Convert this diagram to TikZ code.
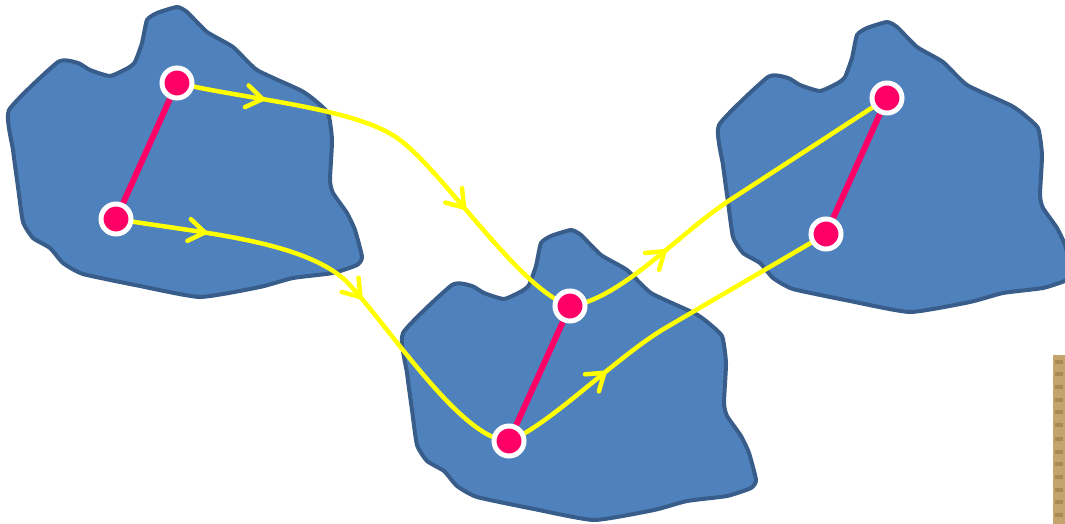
\documentclass[tikz,border=0pt]{standalone}
\usetikzlibrary{decorations.markings}
\definecolor{blobfill}{HTML}{4F81BD}
\definecolor{blobline}{HTML}{385D8A}
\definecolor{dotpink}{HTML}{FF0066}
\definecolor{flowyellow}{HTML}{FFFF00}
\definecolor{stripcol}{HTML}{C2A46C}
\definecolor{stripdark}{HTML}{8E7444}
\pgfdeclarelayer{blobs}
\pgfdeclarelayer{flows}
\pgfsetlayers{blobs,flows,main}
\tikzset{
  blob/.style={fill=blobfill, draw=blobline, line width=4pt, line join=round},
  dot/.style={circle, fill=dotpink, draw=white, line width=5pt, minimum size=30pt, inner sep=0pt},
  link/.style={draw=dotpink, line width=6pt},
  flow/.style={draw=flowyellow, line width=4.5pt, line cap=round},
  chevron/.style={draw=flowyellow, line width=4.5pt, line cap=round, line join=round},
  arrowat/.style={postaction={decorate, decoration={markings, mark=at position #1 with {\draw[chevron] (-16pt,11pt) -- (0pt,0pt) -- (-16pt,-11pt);}}}}
}
\begin{document}
\begin{tikzpicture}[x=1pt,y=-1pt]
\useasboundingbox (0,0) rectangle (1065,524);
\clip (0,0) rectangle (1065,524);
% dots
\node[dot] (a1) at (177,83) {};
\node[dot] (a2) at (116,219) {};
\node[dot] (b1) at (570,306) {};
\node[dot] (b2) at (509,441) {};
\node[dot] (c1) at (887,98) {};
\node[dot] (c2) at (826,234) {};
\begin{pgfonlayer}{blobs}
\foreach \sx/\sy in {0/0,394/223,710/15}{
  \draw[blob, shift={(\sx,\sy)}] plot[smooth cycle, tension=0.3] coordinates {(9,110) (58,62) (78,63) (90,70) (110,76) (128,68) (135,62) (142,43) (147,20) (157,13) (177,7) (187,12) (207,32) (233,47) (257,70) (300,90) (312,98) (328,113) (332,140) (330,180) (333,193) (347,213) (355,230) (362,257) (357,265) (333,273) (293,278) (260,287) (200,297) (140,286) (83,274) (63,263) (50,248) (33,238) (23,222) (18,187) (13,150)};
}
\fill[stripcol] (1053,355) rectangle (1065,524);
\foreach \yy in {360,372,385,398,410,423,437,450,462,475,488,500,513}{
  \fill[stripdark, opacity=0.5] (1055,\yy) rectangle (1063,\yy+4);
}
\end{pgfonlayer}
\begin{pgfonlayer}{flows}
\draw[flow, arrowat=0.185, arrowat=0.69] (a1.center) .. controls (250,100) and (358,108) .. (400,140) .. controls (445,174) and (520,290) .. (b1.center);
\draw[flow, arrowat=0.19, arrowat=0.555] (a2.center) .. controls (200,233) and (300,240) .. (345,280) .. controls (385,320) and (460,440) .. (b2.center);
\draw[flow, arrowat=0.29] (b1.center) .. controls (620,300) and (680,232.5) .. (730,200) -- (c1.center);
\draw[flow, arrowat=0.31] (b2.center) .. controls (550,425) and (617,356) .. (667,327) -- (c2.center);
\draw[link] (a1) -- (a2);
\draw[link] (b1) -- (b2);
\draw[link] (c1) -- (c2);
\end{pgfonlayer}
\end{tikzpicture}
\end{document}
